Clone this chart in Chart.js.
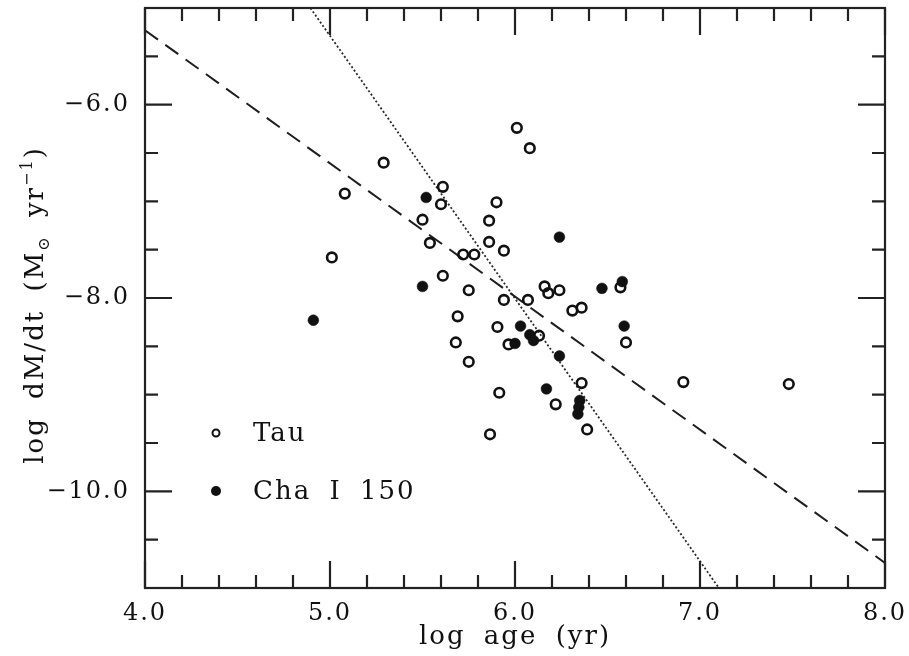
<!DOCTYPE html>
<html>
<head>
<meta charset="utf-8">
<script src="https://cdn.jsdelivr.net/npm/chart.js@4.4.0/dist/chart.umd.min.js"></script>
<style>
  html, body { margin: 0; padding: 0; background: #ffffff; }
  canvas { display: block; }
</style>
</head>
<body>
<canvas id="chart" width="909" height="656"></canvas>
<script>
// Taurus stars: log age (yr) and log accretion rate (Msun/yr)
const tauAge  = [6.01, 6.08, 5.29, 5.08, 5.61, 5.60, 5.90, 5.50, 5.86, 5.54, 5.86, 5.94, 5.01,
                 5.72, 5.78, 5.61, 5.75, 5.94, 6.07, 6.16, 6.18, 6.24, 6.31, 6.36, 6.57, 5.69,
                 5.905, 5.68, 5.965, 6.13, 5.75, 6.60, 6.36, 6.91, 7.48, 5.915, 6.22, 6.39, 5.865];
const tauRate = [-6.24, -6.45, -6.60, -6.92, -6.85, -7.03, -7.01, -7.19, -7.20, -7.43, -7.42, -7.51, -7.58,
                 -7.55, -7.55, -7.77, -7.92, -8.02, -8.02, -7.88, -7.95, -7.92, -8.13, -8.10, -7.89, -8.19,
                 -8.30, -8.46, -8.48, -8.39, -8.66, -8.46, -8.88, -8.87, -8.89, -8.98, -9.10, -9.36, -9.41];

// Cha I stars
const chaAge  = [4.91, 5.52, 5.50, 6.24, 6.47, 6.58, 6.59, 6.03, 6.00, 6.08, 6.10, 6.24, 6.17, 6.35, 6.345, 6.34];
const chaRate = [-8.23, -6.96, -7.88, -7.37, -7.90, -7.83, -8.29, -8.29, -8.47, -8.38, -8.44, -8.60, -8.94, -9.06, -9.13, -9.20];

// Fitted relations, given by their end points
const dashedFitAge  = [4.0, 8.0];
const dashedFitRate = [-5.23, -10.74];
const dottedFitAge  = [4.894, 7.102];
const dottedFitRate = [-5.0, -11.0];

const seriesNames = ['Tau', 'Cha I 150'];

// Axis ticks
const xMajorTicks = [4, 5, 6, 7, 8];
const xTickLabels = ['4.0', '5.0', '6.0', '7.0', '8.0'];
const xMinorTicks = [4.2, 4.4, 4.6, 4.8, 5.2, 5.4, 5.6, 5.8, 6.2, 6.4, 6.6, 6.8, 7.2, 7.4, 7.6, 7.8];
const yMajorTicks = [-10, -8, -6];
const yTickLabels = ['\u221210.0', '\u22128.0', '\u22126.0'];
const yMinorTicks = [-10.5, -9.5, -9, -8.5, -7.5, -7, -6.5, -5.5];

const INK = '#111111';
const SERIF = '"DejaVu Serif", "Liberation Serif", serif';

const toPoints = (xs, ys) => xs.map((x, i) => ({ x: x, y: ys[i] }));

// Wide, typewriter-like text spacing for every label on the canvas
const spacingPlugin = {
  id: 'textSpacing',
  beforeDraw(chart) {
    chart.ctx.letterSpacing = '2px';
    chart.ctx.wordSpacing = '8px';
  }
};

// Frame with inward tick marks on all four sides
const framePlugin = {
  id: 'frameTicks',
  afterDraw(chart) {
    const { ctx, chartArea: a, scales } = chart;
    const xs = scales.x, ys = scales.y;
    const MAJ = 27, MIN = 13;
    ctx.save();
    ctx.strokeStyle = '#222222';
    ctx.lineWidth = 2.2;
    ctx.strokeRect(a.left, a.top, a.right - a.left, a.bottom - a.top);
    ctx.beginPath();
    const xt = (v, len) => {
      const p = xs.getPixelForValue(v);
      ctx.moveTo(p, a.bottom); ctx.lineTo(p, a.bottom - len);
      ctx.moveTo(p, a.top);    ctx.lineTo(p, a.top + len);
    };
    const yt = (v, len) => {
      const p = ys.getPixelForValue(v);
      ctx.moveTo(a.left, p);  ctx.lineTo(a.left + len, p);
      ctx.moveTo(a.right, p); ctx.lineTo(a.right - len, p);
    };
    xMajorTicks.forEach(v => xt(v, MAJ));
    xMinorTicks.forEach(v => xt(v, MIN));
    yMajorTicks.forEach(v => yt(v, MAJ));
    yMinorTicks.forEach(v => yt(v, MIN));
    ctx.stroke();
    ctx.restore();
  }
};

// Rotated y-axis title with subscript and superscript
const yTitlePlugin = {
  id: 'yTitle',
  afterDraw(chart) {
    const { ctx, chartArea: a } = chart;
    const size = 26;
    const parts = [
      { t: 'log dM/dt (M', s: 1, dy: 0 },
      { t: '\u2299', s: 0.6, dy: 0.22 },
      { t: ' yr', s: 1, dy: 0 },
      { t: '\u22121', s: 0.6, dy: -0.42 },
      { t: ')', s: 1, dy: 0 }
    ];
    ctx.save();
    ctx.fillStyle = INK;
    ctx.textBaseline = 'alphabetic';
    let total = 0;
    parts.forEach(p => {
      ctx.font = `${Math.round(size * p.s)}px ${SERIF}`;
      p.w = ctx.measureText(p.t).width;
      total += p.w;
    });
    ctx.translate(43, (a.top + a.bottom) / 2 + 7);
    ctx.rotate(-Math.PI / 2);
    let x = -total / 2;
    parts.forEach(p => {
      ctx.font = `${Math.round(size * p.s)}px ${SERIF}`;
      ctx.fillText(p.t, x, p.dy * size);
      x += p.w;
    });
    ctx.restore();
  }
};

// Legend drawn inside the lower-left part of the plot
const legendPlugin = {
  id: 'innerLegend',
  afterDraw(chart) {
    const { ctx, chartArea: a } = chart;
    const rows = [chart.data.datasets[0], chart.data.datasets[1]];
    ctx.save();
    ctx.font = `26px ${SERIF}`;
    ctx.textBaseline = 'middle';
    ctx.fillStyle = INK;
    rows.forEach((ds, i) => {
      const cx = a.left + 71;
      const cy = a.top + 425 + i * 58;
      ctx.beginPath();
      if (ds.backgroundColor === INK) {
        ctx.arc(cx, cy, 5, 0, Math.PI * 2);
        ctx.fillStyle = INK;
        ctx.fill();
      } else {
        ctx.arc(cx, cy, 3.5, 0, Math.PI * 2);
        ctx.lineWidth = 2;
        ctx.strokeStyle = INK;
        ctx.stroke();
      }
      ctx.fillStyle = INK;
      ctx.fillText(ds.label, a.left + 108, cy + 1);
    });
    ctx.restore();
  }
};

const noEdgePadding = s => {
  s.paddingTop = 0; s.paddingBottom = 0; s.paddingLeft = 0; s.paddingRight = 0;
};

new Chart(document.getElementById('chart'), {
  type: 'scatter',
  data: {
    datasets: [
      {
        label: seriesNames[0],
        data: toPoints(tauAge, tauRate),
        pointStyle: 'circle',
        pointRadius: 4.8,
        borderWidth: 2.6,
        borderColor: INK,
        backgroundColor: 'rgba(255,255,255,0)',
        order: 0
      },
      {
        label: seriesNames[1],
        data: toPoints(chaAge, chaRate),
        pointStyle: 'circle',
        pointRadius: 5.4,
        borderWidth: 0.5,
        borderColor: INK,
        backgroundColor: INK,
        order: 0
      },
      {
        label: 'dashed fit',
        data: toPoints(dashedFitAge, dashedFitRate),
        showLine: true,
        pointRadius: 0,
        borderColor: '#1e1e1e',
        borderWidth: 2,
        borderDash: [16, 9],
        order: 1
      },
      {
        label: 'dotted fit',
        data: toPoints(dottedFitAge, dottedFitRate),
        showLine: true,
        pointRadius: 0,
        borderColor: '#2a2a2a',
        borderWidth: 1.8,
        borderDash: [2, 2.2],
        order: 1
      }
    ]
  },
  options: {
    responsive: false,
    animation: false,
    devicePixelRatio: 1,
    layout: { padding: { top: 8, right: 24, left: 0, bottom: 0 } },
    plugins: { legend: { display: false }, tooltip: { enabled: false } },
    scales: {
      x: {
        type: 'linear',
        min: 4, max: 8,
        afterFit: s => { s.height = 68; noEdgePadding(s); },
        afterBuildTicks: s => { s.ticks = xMajorTicks.map(v => ({ value: v })); },
        grid: { display: false, drawTicks: false, tickLength: 0 },
        border: { display: false },
        ticks: {
          autoSkip: false,
          maxRotation: 0,
          padding: 11,
          color: INK,
          font: { family: SERIF, size: 24 },
          callback: (v) => xTickLabels[xMajorTicks.indexOf(v)]
        },
        title: {
          display: true,
          text: 'log age (yr)',
          color: INK,
          font: { family: SERIF, size: 26, lineHeight: 1 },
          padding: { top: 0, bottom: 6 }
        }
      },
      y: {
        type: 'linear',
        min: -11, max: -5,
        afterFit: s => { s.width = 145; noEdgePadding(s); },
        afterBuildTicks: s => { s.ticks = yMajorTicks.map(v => ({ value: v })); },
        grid: { display: false, drawTicks: false, tickLength: 0 },
        border: { display: false },
        ticks: {
          autoSkip: false,
          padding: 15,
          color: INK,
          font: { family: SERIF, size: 24 },
          callback: (v) => yTickLabels[yMajorTicks.indexOf(v)]
        }
      }
    }
  },
  plugins: [spacingPlugin, framePlugin, yTitlePlugin, legendPlugin]
});
</script>
</body>
</html>
